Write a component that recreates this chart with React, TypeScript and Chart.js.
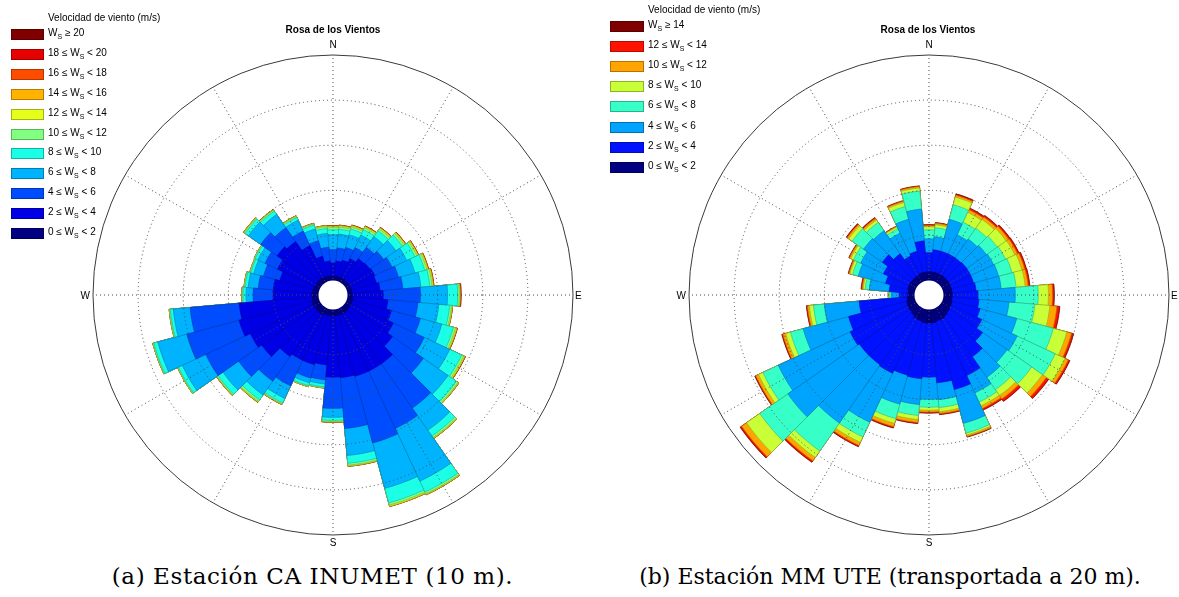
import React, { useEffect, useRef } from "react";
import { Chart, registerables } from "chart.js";

Chart.register(...registerables);

// ---------- shared axes ----------
const DIRECTIONS = ["N","10°","20°","30°","40°","50°","60°","70°","80°","E","100°","110°","120°","130°","140°","150°","160°","170°","S","190°","200°","210°","220°","230°","240°","250°","260°","W","280°","290°","300°","310°","320°","330°","340°","350°"];
const COMPASS = ["N","30°","60°","E","120°","150°","S","210°","240°","W","300°","330°"];
const RING_VALUES = [1.2, 2.4, 3.6, 4.8, 6.0]; // frequency (%) rings
const HOLE = 0.386; // empty centre of the rose (in % units)

// ---------- (a) Estación CA INUMET (10 m): frequency (%) per direction ----------
const CA_0_2 = [0.12,0.12,0.12,0.12,0.12,0.12,0.12,0.12,0.12,0.12,0.15,0.15,0.15,0.15,0.17,0.17,0.17,0.17,0.17,0.17,0.17,0.20,0.20,0.20,0.20,0.20,0.17,0.17,0.17,0.15,0.15,0.15,0.15,0.15,0.12,0.12];
const CA_2_4 = [0.35,0.40,0.45,0.56,0.67,0.69,0.72,0.69,0.75,0.83,0.93,1.07,1.23,1.39,1.68,1.68,1.68,1.65,1.63,1.31,1.36,1.33,1.41,1.73,1.84,2.00,1.95,1.04,1.04,0.93,1.09,1.28,1.20,0.91,0.56,0.40];
const CA_4_6 = [0.35,0.35,0.35,0.32,0.37,0.45,0.51,0.61,0.61,0.99,0.80,0.80,0.91,1.01,1.44,1.68,1.84,1.36,0.83,0.40,0.37,0.75,0.80,0.75,1.31,1.44,1.31,0.53,0.40,0.45,0.37,0.53,0.45,0.43,0.43,0.37];
const CA_6_8 = [0.40,0.37,0.35,0.37,0.35,0.40,0.43,0.45,0.48,0.72,0.56,0.59,0.75,0.80,0.72,1.55,1.25,0.72,0.24,0.11,0.13,0.37,0.45,0.51,0.69,0.80,0.45,0.19,0.27,0.27,0.21,0.40,0.43,0.32,0.32,0.37];
const CA_8_10 = [0.13,0.13,0.16,0.16,0.19,0.21,0.24,0.27,0.24,0.27,0.29,0.32,0.35,0.27,0.19,0.32,0.40,0.21,0.08,0.08,0.08,0.13,0.16,0.16,0.11,0.11,0.08,0.08,0.08,0.08,0.08,0.11,0.11,0.08,0.11,0.13];
const CA_10_12 = [0.06,0.06,0.06,0.06,0.06,0.06,0.06,0.06,0.06,0.04,0.05,0.06,0.06,0.05,0.05,0.05,0.06,0.05,0.03,0.02,0.02,0.03,0.05,0.03,0.02,0.02,0.02,0.02,0.02,0.02,0.02,0.03,0.03,0.03,0.03,0.05];
const CA_12_14 = [0.03,0.03,0.03,0.03,0.03,0.03,0.03,0.03,0.03,0.02,0.02,0.03,0.03,0.02,0.02,0.02,0.03,0.02,0.01,0.01,0.01,0.01,0.02,0.01,0.01,0.01,0.01,0.01,0.01,0.01,0.01,0.01,0.01,0.01,0.01,0.02];
const CA_14_16 = [0.01,0.01,0.01,0.01,0.01,0.01,0.01,0.01,0.01,0.01,0.01,0.01,0.01,0.01,0.01,0.01,0.01,0.01,0.01,0,0,0.01,0.01,0.01,0,0,0,0,0,0,0,0.01,0.01,0.01,0.01,0.01];
const CA_16_18 = [0.01,0.01,0.01,0.01,0.01,0.01,0.01,0.01,0.01,0.01,0,0.01,0.01,0,0,0,0,0,0,0,0,0,0,0,0,0,0,0,0,0,0,0,0,0,0,0];
const CA_18_20 = [0,0,0,0,0,0,0,0,0,0.01,0,0,0,0,0,0,0,0,0,0,0,0,0,0,0,0,0,0,0,0,0,0,0,0,0,0];
const CA_GE20 = [0,0,0,0,0,0,0,0,0,0.005,0,0,0,0,0,0,0,0,0,0,0,0,0,0,0,0,0,0,0,0,0,0,0,0,0,0];
const CA_BINS = [CA_0_2, CA_2_4, CA_4_6, CA_6_8, CA_8_10, CA_10_12, CA_12_14, CA_14_16, CA_16_18, CA_18_20, CA_GE20];
const CA_LABELS: [string, string][] = [["0 ≤ ", " < 2"],["2 ≤ ", " < 4"],["4 ≤ ", " < 6"],["6 ≤ ", " < 8"],["8 ≤ ", " < 10"],["10 ≤ ", " < 12"],["12 ≤ ", " < 14"],["14 ≤ ", " < 16"],["16 ≤ ", " < 18"],["18 ≤ ", " < 20"],["", " ≥ 20"]];
const CA_COLORS = ["#000080","#0000E6","#004DFF","#00B3FF","#1AFFE6","#80FF80","#E6FF1A","#FFB300","#FF4D00","#E60000","#800000"];
const CA_EDGES = ["#00005A","#0000A0","#0036B3","#007DB3","#12B3A1","#5AB35A","#A1B312","#B37D00","#B33600","#A10000","#5A0000"];

// ---------- (b) Estación MM UTE (20 m): frequency (%) per direction ----------
const MM_0_2 = [0.23,0.23,0.23,0.23,0.23,0.23,0.23,0.23,0.23,0.23,0.23,0.25,0.25,0.28,0.31,0.33,0.33,0.36,0.36,0.36,0.33,0.31,0.28,0.25,0.25,0.23,0.20,0.17,0.17,0.20,0.20,0.20,0.20,0.20,0.23,0.23];
const MM_2_4 = [0.51,0.59,0.59,0.59,0.59,0.61,0.61,0.61,0.64,0.69,0.72,0.77,0.91,1.07,1.31,1.65,1.89,1.60,1.44,1.49,1.49,1.60,1.60,1.63,1.68,1.60,1.28,0.24,0.51,0.61,0.75,0.93,0.75,0.56,0.59,0.83];
const MM_4_6 = [0.37,0.35,0.88,0.56,0.61,0.64,0.67,0.69,0.67,0.99,0.80,1.01,1.04,0.80,0.67,0.51,0.93,0.45,0.59,0.69,0.80,1.44,1.89,2.32,2.11,1.25,0.93,0.21,0.53,0.75,0.67,0.61,0.75,0.67,0.88,0.85];
const MM_6_8 = [0.24,0.24,0.40,0.37,0.35,0.35,0.35,0.37,0.40,0.61,0.69,1.01,1.12,0.80,0.40,0.27,0.27,0.21,0.21,0.29,0.40,0.43,0.91,0.91,0.45,0.35,0.29,0.05,0.11,0.16,0.21,0.37,0.27,0.13,0.35,0.48];
const MM_8_10 = [0.08,0.08,0.21,0.29,0.29,0.29,0.27,0.27,0.24,0.27,0.40,0.37,0.29,0.35,0.19,0.11,0.05,0.11,0.08,0.11,0.13,0.16,0.21,0.43,0.13,0.13,0.11,0.02,0.05,0.07,0.08,0.11,0.08,0.05,0.11,0.08];
const MM_10_12 = [0.03,0.04,0.05,0.08,0.08,0.08,0.08,0.08,0.08,0.11,0.19,0.13,0.09,0.13,0.11,0.08,0.04,0.05,0.05,0.08,0.09,0.09,0.11,0.16,0.08,0.08,0.05,0.01,0.03,0.03,0.04,0.05,0.05,0.02,0.04,0.04];
const MM_12_14 = [0.02,0.01,0.03,0.04,0.04,0.04,0.04,0.04,0.04,0.04,0.07,0.05,0.04,0.07,0.07,0.04,0.01,0.02,0.02,0.02,0.03,0.03,0.04,0.04,0.02,0.02,0.02,0,0.02,0.01,0.01,0.02,0.02,0.01,0.01,0.01];
const MM_GE14 = [0.01,0.01,0.01,0.01,0.01,0.01,0.01,0.01,0.01,0.01,0.01,0.01,0.01,0.01,0.01,0.01,0.01,0.01,0.01,0.01,0.01,0.01,0.01,0.01,0.01,0.01,0.01,0,0.01,0.01,0.01,0.01,0.01,0,0.01,0.01];
const MM_BINS = [MM_0_2, MM_2_4, MM_4_6, MM_6_8, MM_8_10, MM_10_12, MM_12_14, MM_GE14];
const MM_LABELS: [string, string][] = [["0 ≤ ", " < 2"],["2 ≤ ", " < 4"],["4 ≤ ", " < 6"],["6 ≤ ", " < 8"],["8 ≤ ", " < 10"],["10 ≤ ", " < 12"],["12 ≤ ", " < 14"],["", " ≥ 14"]];
const MM_COLORS = ["#000080","#0012FF","#00A4FF","#37FFC8","#C8FF37","#FFA400","#FF1200","#800000"];
const MM_EDGES = ["#00005A","#000DB3","#0073B3","#27B38C","#8CB327","#B37300","#B30D00","#5A0000"];

const TITLE = "Rosa de los Vientos";
const LEGEND_TITLE = "Velocidad de viento (m/s)";
const CAPTION_A = "(a) Estación CA INUMET (10 m).";
const CAPTION_B = "(b) Estación MM UTE (transportada a 20 m).";

const SANS = '"Liberation Sans", Arial, Helvetica, sans-serif';
const SERIF = '"DejaVu Serif", "Liberation Serif", serif';

const roseOverlay = {
  id: "roseOverlay",
  afterDraw(chart: any) {
    const r = chart.scales.r;
    const ctx = chart.ctx;
    const hole = r.getDistanceFromCenterForValue(0);
    const R = r.drawingArea;
    ctx.save();
    ctx.fillStyle = "#ffffff";
    ctx.beginPath();
    ctx.arc(r.xCenter, r.yCenter, hole, 0, Math.PI * 2);
    ctx.fill();
    ctx.fillStyle = "#000";
    ctx.font = "10px " + SANS;
    ctx.textBaseline = "middle";
    ctx.textAlign = "center";
    ctx.fillText(COMPASS[0], r.xCenter, r.yCenter - R - 10);
    ctx.fillText(COMPASS[6], r.xCenter, r.yCenter + R + 8);
    ctx.textAlign = "left";
    ctx.fillText(COMPASS[3], r.xCenter + R + 2, r.yCenter + 1);
    ctx.textAlign = "right";
    ctx.fillText(COMPASS[9], r.xCenter - R - 3, r.yCenter + 1);
    ctx.restore();
  },
};

type RoseProps = {
  bins: number[][];
  colors: string[];
  edges: string[];
  width: number;
  height: number;
  padding: { left: number; top: number; right: number; bottom: number };
};

function Rose({ bins, colors, edges, width, height, padding }: RoseProps) {
  const ref = useRef<HTMLCanvasElement>(null);
  useEffect(() => {
    const cum: number[][] = [];
    bins.forEach((b, k) => {
      cum.push(b.map((v, i) => v + (k > 0 ? cum[k - 1][i] : 0)));
    });
    const datasets = cum.map((data, k) => ({
      label: String(k),
      data,
      rAxisID: "r",
      backgroundColor: colors[k],
      borderColor: edges[k],
      borderWidth: 0.6,
    }));
    const last = RING_VALUES.length - 1;
    const chart = new Chart(ref.current as HTMLCanvasElement, {
      type: "polarArea",
      data: { labels: DIRECTIONS, datasets } as any,
      options: {
        responsive: false,
        animation: false,
        devicePixelRatio: 1,
        layout: { padding },
        plugins: { legend: { display: false }, tooltip: { enabled: false } },
        scales: {
          r: {
            type: "radialLinear",
            min: -HOLE,
            max: RING_VALUES[last],
            startAngle: -5,
            afterBuildTicks: (s: any) => {
              s.ticks = RING_VALUES.map((v) => ({ value: v }));
            },
            ticks: { display: false, stepSize: 1.2 },
            pointLabels: { display: false },
            angleLines: { display: false },
            grid: {
              display: true,
              circular: true,
              z: 1,
              lineWidth: 1,
              color: (c: any) => (c.index === last ? "#3a3a3a" : "#4a4a4a"),
            },
            border: { dash: (c: any) => (c.index === last ? [] : [1, 3]) },
          },
          rc: {
            type: "radialLinear",
            axis: "r",
            min: 0,
            max: 1,
            startAngle: 0,
            labels: COMPASS,
            ticks: { display: false, stepSize: 1 },
            pointLabels: { display: false },
            grid: { display: false, z: 1 },
            angleLines: { display: true, color: "#4a4a4a", lineWidth: 1, borderDash: [1, 3] },
          },
        } as any,
      },
      plugins: [roseOverlay],
    } as any);
    return () => chart.destroy();
  }, []);
  return (
    <canvas
      ref={ref}
      width={width}
      height={height}
      style={{ position: "absolute", left: 0, top: 0, width, height }}
    />
  );
}

type LegendProps = {
  labels: [string, string][];
  colors: string[];
  edges: string[];
  boxX: number;
  boxW: number;
  textX: number;
  titleY: number;
  boxY: number;
  step: number;
};

function Legend({ labels, colors, edges, boxX, boxW, textX, titleY, boxY, step }: LegendProps) {
  const order = labels.map((_, i) => labels.length - 1 - i);
  return (
    <>
      <div style={{ position: "absolute", left: textX, top: titleY, fontSize: 10, lineHeight: "12px", whiteSpace: "nowrap" }}>
        {LEGEND_TITLE}
      </div>
      {order.map((idx, k) => (
        <React.Fragment key={idx}>
          <div
            style={{
              position: "absolute",
              left: boxX,
              top: Math.round(boxY + k * step),
              width: boxW - 2,
              height: 9,
              background: colors[idx],
              border: `1px solid ${edges[idx]}`,
            }}
          />
          <div
            style={{
              position: "absolute",
              left: textX,
              top: Math.round(boxY + k * step) - 2,
              fontSize: 10,
              lineHeight: "12px",
              whiteSpace: "nowrap",
            }}
          >
            {labels[idx][0]}W
            <sub style={{ fontSize: 7, verticalAlign: "-3px", lineHeight: 0 }}>S</sub>
            {labels[idx][1]}
          </div>
        </React.Fragment>
      ))}
    </>
  );
}

export default function App() {
  return (
    <div
      style={{
        position: "fixed",
        left: 0,
        top: 0,
        width: 1179,
        height: 597,
        background: "#fff",
        overflow: "hidden",
        fontFamily: SANS,
        color: "#000",
      }}
    >
      <div style={{ position: "absolute", left: 0, top: 0, width: 590, height: 560 }}>
        <Rose
          bins={CA_BINS}
          colors={CA_COLORS}
          edges={CA_EDGES}
          width={590}
          height={560}
          padding={{ left: 93, top: 55, right: 17, bottom: 25 }}
        />
        <div style={{ position: "absolute", left: 233, top: 24, width: 200, textAlign: "center", fontWeight: "bold", fontSize: 10, lineHeight: "12px" }}>
          {TITLE}
        </div>
        <Legend labels={CA_LABELS} colors={CA_COLORS} edges={CA_EDGES} boxX={11} boxW={33} textX={48} titleY={12} boxY={29} step={19.9} />
      </div>
      <div style={{ position: "absolute", left: 590, top: 0, width: 589, height: 560 }}>
        <Rose
          bins={MM_BINS}
          colors={MM_COLORS}
          edges={MM_EDGES}
          width={589}
          height={560}
          padding={{ left: 99, top: 55, right: 10, bottom: 25 }}
        />
        <div style={{ position: "absolute", left: 238, top: 24, width: 200, textAlign: "center", fontWeight: "bold", fontSize: 10, lineHeight: "12px" }}>
          {TITLE}
        </div>
        <Legend labels={MM_LABELS} colors={MM_COLORS} edges={MM_EDGES} boxX={20} boxW={34} textX={58} titleY={4} boxY={21} step={20.1} />
      </div>
      <div style={{ position: "absolute", left: 0, top: 563, width: 625, textAlign: "center", fontFamily: SERIF, fontSize: 23, letterSpacing: "0.6px", lineHeight: "27px", whiteSpace: "nowrap" }}>
        {CAPTION_A}
      </div>
      <div style={{ position: "absolute", left: 590, top: 564, width: 600, textAlign: "center", fontFamily: SERIF, fontSize: 22, lineHeight: "26px", whiteSpace: "nowrap" }}>
        {CAPTION_B}
      </div>
    </div>
  );
}
